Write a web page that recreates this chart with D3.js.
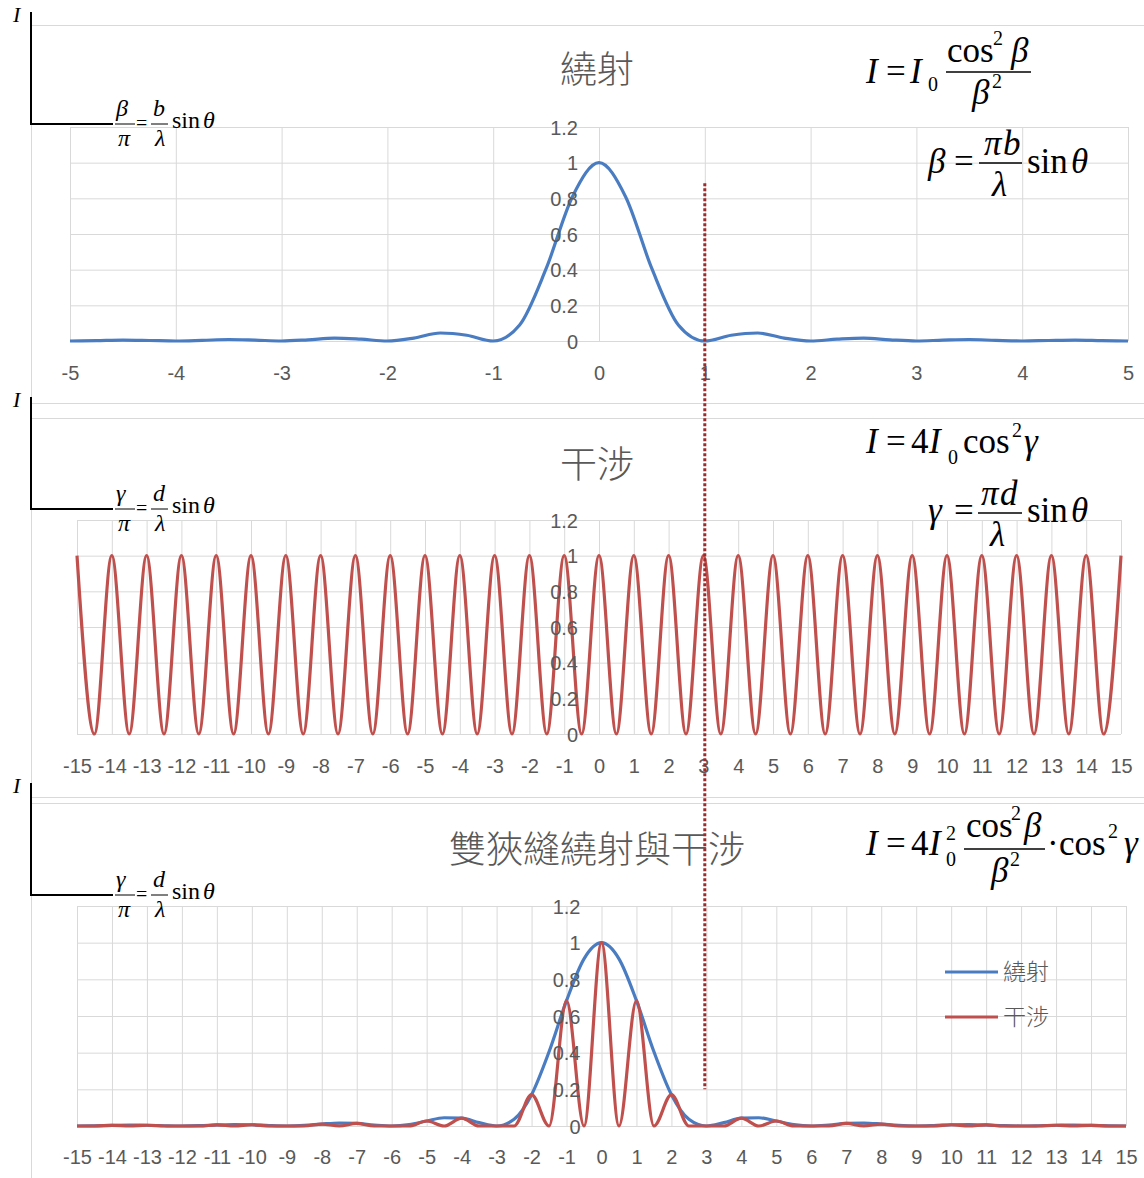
<!DOCTYPE html>
<html>
<head>
<meta charset="utf-8">
<script src="https://cdn.jsdelivr.net/npm/d3@7"></script>
<style>
  body { margin: 0; background: #fff; }
  svg { display: block; }
  .grid line { stroke: #d9d9d9; stroke-width: 1; }
  .math { font-family: "Liberation Serif", "Times New Roman", serif; fill: #000; }
  .cjk { font-family: "Noto Sans CJK TC", "Noto Sans CJK SC", sans-serif; fill: #595959; }
</style>
</head>
<body>
<svg id="chart" width="1144" height="1178"></svg>
<script>
// ---- data ----
// 繞射 (single slit), x = β/π
const diffX = [-5, -4.75, -4.5, -4.25, -4, -3.75, -3.5, -3.25, -3, -2.75, -2.5, -2.25, -2, -1.75, -1.5, -1.25, -1, -0.75, -0.5, -0.25,
  0, 0.25, 0.5, 0.75, 1, 1.25, 1.5, 1.75, 2, 2.25, 2.5, 2.75, 3, 3.25, 3.5, 3.75, 4, 4.25, 4.5, 4.75, 5];
const diffY = [0, 0.0022, 0.0050, 0.0028, 0, 0.0036, 0.0083, 0.0048, 0, 0.0067, 0.0162, 0.0100, 0, 0.0165, 0.0450, 0.0324, 0, 0.0901, 0.4053, 0.8106,
  1, 0.8106, 0.4053, 0.0901, 0, 0.0324, 0.0450, 0.0165, 0, 0.0100, 0.0162, 0.0067, 0, 0.0048, 0.0083, 0.0036, 0, 0.0028, 0.0050, 0.0022, 0];

// 干涉 and 雙狹縫, x = γ/π
const slitX = [-15, -14.5, -14, -13.5, -13, -12.5, -12, -11.5, -11, -10.5, -10, -9.5, -9, -8.5, -8, -7.5, -7, -6.5, -6, -5.5,
  -5, -4.5, -4, -3.5, -3, -2.5, -2, -1.5, -1, -0.5, 0, 0.5, 1, 1.5, 2, 2.5, 3, 3.5, 4, 4.5,
  5, 5.5, 6, 6.5, 7, 7.5, 8, 8.5, 9, 9.5, 10, 10.5, 11, 11.5, 12, 12.5, 13, 13.5, 14, 14.5, 15];
const interY = [1, 0, 1, 0, 1, 0, 1, 0, 1, 0, 1, 0, 1, 0, 1, 0, 1, 0, 1, 0,
  1, 0, 1, 0, 1, 0, 1, 0, 1, 0, 1, 0, 1, 0, 1, 0, 1, 0, 1, 0,
  1, 0, 1, 0, 1, 0, 1, 0, 1, 0, 1, 0, 1, 0, 1, 0, 1, 0, 1, 0, 1];
const envY = [0, 0.0011, 0.0035, 0.0050, 0.0041, 0.0015, 0, 0.0017, 0.0057, 0.0083, 0.0068, 0.0025, 0, 0.0032, 0.0107, 0.0162, 0.0140, 0.0054, 0, 0.0075,
  0.0274, 0.0450, 0.0427, 0.0186, 0, 0.0365, 0.171, 0.405, 0.684, 0.912, 1, 0.912, 0.684, 0.405, 0.171, 0.0365, 0, 0.0186, 0.0427, 0.0450,
  0.0274, 0.0075, 0, 0.0054, 0.0140, 0.0162, 0.0107, 0.0032, 0, 0.0025, 0.0068, 0.0083, 0.0057, 0.0017, 0, 0.0015, 0.0041, 0.0050, 0.0035, 0.0011, 0];
const bothY = [0, 0, 0.0035, 0, 0.0041, 0, 0, 0, 0.0057, 0, 0.0068, 0, 0, 0, 0.0107, 0, 0.0140, 0, 0, 0,
  0.0274, 0, 0.0427, 0, 0, 0, 0.171, 0, 0.684, 0, 1, 0, 0.684, 0, 0.171, 0, 0, 0, 0.0427, 0,
  0.0274, 0, 0, 0, 0.0140, 0, 0.0107, 0, 0, 0, 0.0068, 0, 0.0057, 0, 0, 0, 0.0041, 0, 0.0035, 0, 0];

const yTicks = [0, 0.2, 0.4, 0.6, 0.8, 1, 1.2];
const ticks5 = [-5, -4, -3, -2, -1, 0, 1, 2, 3, 4, 5];
const ticks15 = d3.range(-15, 16);
const titles = ["繞射", "干涉", "雙狹縫繞射與干涉"];
const legendNames = ["繞射", "干涉"];

const BLUE = "#4a7cc2";
const RED = "#c0504d";

// ---- drawing ----
const svg = d3.select("#chart");

const panels = [
  { title: titles[0], xs: diffX, series: [{ v: diffY, c: BLUE }], domain: [-5, 5], ticks: ticks5,
    xr: [70, 1128], yr: [341, 127], top: 25, bottom: 403, titleY: 70, labelY: 373 },
  { title: titles[1], xs: slitX, series: [{ v: interY, c: RED }], domain: [-15, 15], ticks: ticks15,
    xr: [77, 1121], yr: [734, 520], top: 418, bottom: 797, titleY: 465, labelY: 766 },
  { title: titles[2], xs: slitX, series: [{ v: envY, c: BLUE }, { v: bothY, c: RED }], domain: [-15, 15], ticks: ticks15,
    xr: [77, 1126], yr: [1126, 906], top: 803, bottom: 1200, titleY: 850, labelY: 1157, legend: true }
];

const scales = panels.map(drawPanel);

function drawPanel(p) {
  let g = svg.append("g");
  let x = d3.scaleLinear().domain(p.domain).range(p.xr);
  let y = d3.scaleLinear().domain([0, 1.2]).range(p.yr);

  g.append("rect")
    .attr("x", 31.5).attr("y", p.top + 0.5)
    .attr("width", 1300).attr("height", p.bottom - p.top)
    .attr("fill", "none").attr("stroke", "#d9d9d9");

  g.append("g").attr("class", "grid")
    .attr("transform", "translate(" + p.xr[0] + ",0)")
    .call(d3.axisLeft(y).tickValues(yTicks).tickSize(-(p.xr[1] - p.xr[0])).tickFormat(""))
    .call(a => a.select(".domain").remove());

  g.append("g").attr("class", "grid")
    .attr("transform", "translate(0," + p.yr[1] + ")")
    .call(d3.axisTop(x).tickValues(p.ticks).tickSize(-(p.yr[0] - p.yr[1])).tickFormat(""))
    .call(a => a.select(".domain").remove());

  let line = d3.line().curve(d3.curveMonotoneX);
  p.series.forEach(s => {
    g.append("path")
      .attr("d", line(p.xs.map((d, i) => [x(d), y(s.v[i])])))
      .attr("fill", "none")
      .attr("stroke", s.c)
      .attr("stroke-width", 3.2)
      .attr("stroke-linejoin", "round");
  });

  let xa = g.append("g")
    .attr("transform", "translate(0," + p.yr[0] + ")")
    .call(d3.axisBottom(x).tickValues(p.ticks).tickSize(0).tickFormat(d => String(d)));
  xa.select(".domain").remove();
  xa.selectAll("text")
    .attr("y", p.labelY - p.yr[0]).attr("dy", "0.35em")
    .attr("fill", "#595959")
    .attr("font-family", "'Liberation Sans', Arial, sans-serif")
    .attr("font-size", 20);

  let ya = g.append("g")
    .attr("transform", "translate(" + x(0) + ",0)")
    .call(d3.axisLeft(y).tickValues(yTicks).tickSize(0).tickFormat(d => String(d)));
  ya.select(".domain").remove();
  ya.selectAll("text")
    .attr("x", -21).attr("dy", "0.35em")
    .attr("fill", "#595959")
    .attr("font-family", "'Liberation Sans', Arial, sans-serif")
    .attr("font-size", 20);

  g.append("text")
    .attr("class", "cjk")
    .attr("x", 597).attr("y", p.titleY)
    .attr("dy", "0.36em")
    .attr("text-anchor", "middle")
    .attr("font-size", 37)
    .attr("font-weight", 300)
    .attr("fill", "#666")
    .text(p.title);

  if (p.legend) {
    p.series.forEach((s, i) => {
      let ly = 972 + i * 45;
      g.append("line")
        .attr("x1", 945).attr("x2", 998).attr("y1", ly).attr("y2", ly)
        .attr("stroke", s.c).attr("stroke-width", 3.2);
      g.append("text")
        .attr("class", "cjk")
        .attr("x", 1003).attr("y", ly).attr("dy", "0.36em")
        .attr("font-size", 23)
        .attr("font-weight", 300)
        .attr("fill", "#666")
        .text(legendNames[i]);
    });
  }
  return { x, y };
}

// ---- formula overlays ----
function put(x, y, str, size, italic) {
  return svg.append("text")
    .attr("class", "math")
    .attr("x", x).attr("y", y)
    .attr("font-size", size)
    .attr("font-style", italic ? "italic" : "normal")
    .text(str);
}
function bar(x1, x2, y, w) {
  svg.append("line")
    .attr("x1", x1).attr("x2", x2).attr("y1", y).attr("y2", y)
    .attr("stroke", "#000").attr("stroke-width", w || 1.5);
}

// I = I0 cos^2 β / β^2
put(866, 83, "I", 35, true);
put(886, 83, "=", 35);
put(910, 83, "I", 35, true);
put(928, 91, "0", 20);
put(947, 62, "cos", 35);
put(993, 45, "2", 20);
put(1011, 62, "β", 35, true);
bar(946, 1031, 72);
put(972, 104, "β", 35, true);
put(992, 88, "2", 20);

// β = πb/λ sinθ
put(928, 173, "β", 35, true);
put(954, 173, "=", 35);
put(984, 155, "π", 35, true);
put(1003, 155, "b", 35, true);
bar(979, 1022, 163);
put(992, 196, "λ", 35, true);
put(1027, 173, "sin", 35);
put(1071, 173, "θ", 35, true);

// I = 4 I0 cos^2 γ
put(866, 453, "I", 35, true);
put(886, 453, "=", 35);
put(911, 453, "4", 35);
put(929, 453, "I", 35, true);
put(948, 464, "0", 20);
put(963, 453, "cos", 35);
put(1012, 437, "2", 20);
put(1024, 453, "γ", 35, true);

// γ = πd/λ sinθ
put(928, 522, "γ", 35, true);
put(954, 522, "=", 35);
put(981, 505, "π", 35, true);
put(1000, 505, "d", 35, true);
bar(978, 1022, 513);
put(990, 546, "λ", 35, true);
put(1027, 522, "sin", 35);
put(1071, 522, "θ", 35, true);

// I = 4 I0^2 cos^2 β / β^2 · cos^2 γ
put(866, 855, "I", 35, true);
put(886, 855, "=", 35);
put(911, 855, "4", 35);
put(929, 855, "I", 35, true);
put(946, 840, "2", 20);
put(946, 866, "0", 20);
put(966, 837, "cos", 35);
put(1011, 820, "2", 20);
put(1024, 837, "β", 35, true);
bar(964, 1045, 849);
put(991, 882, "β", 35, true);
put(1010, 866, "2", 20);
put(1047, 855, "·", 35);
put(1059, 855, "cos", 35);
put(1108, 838, "2", 20);
put(1124, 855, "γ", 35, true);

// left axis sketches: I vs β/π or γ/π
const axisMarks = [
  { top: 12, base: 124, num: "β", rhs: "b" },
  { top: 397, base: 509, num: "γ", rhs: "d" },
  { top: 783, base: 895, num: "γ", rhs: "d" }
];
axisMarks.forEach(m => {
  put(13, m.top + 10, "I", 22, true);
  svg.append("path")
    .attr("d", "M31," + m.top + "V" + m.base + "H113")
    .attr("fill", "none").attr("stroke", "#000").attr("stroke-width", 2);
  put(116, m.base - 8, m.num, 24, true);
  bar(115, 135, m.base, 1);
  put(118, m.base + 22, "π", 24, true);
  put(136, m.base + 6, "=", 20);
  put(153, m.base - 8, m.rhs, 24, true);
  bar(151, 168, m.base, 1);
  put(155, m.base + 22, "λ", 24, true);
  put(172, m.base + 4, "sin", 24);
  put(203, m.base + 4, "θ", 24, true);
});

// dotted marker at first diffraction minimum
svg.append("line")
  .attr("x1", scales[0].x(1)).attr("x2", scales[0].x(1))
  .attr("y1", scales[0].y(0.885)).attr("y2", scales[2].y(0.2))
  .attr("stroke", "#9e2b2b").attr("stroke-width", 3)
  .attr("stroke-dasharray", "3,2");
</script>
</body>
</html>
